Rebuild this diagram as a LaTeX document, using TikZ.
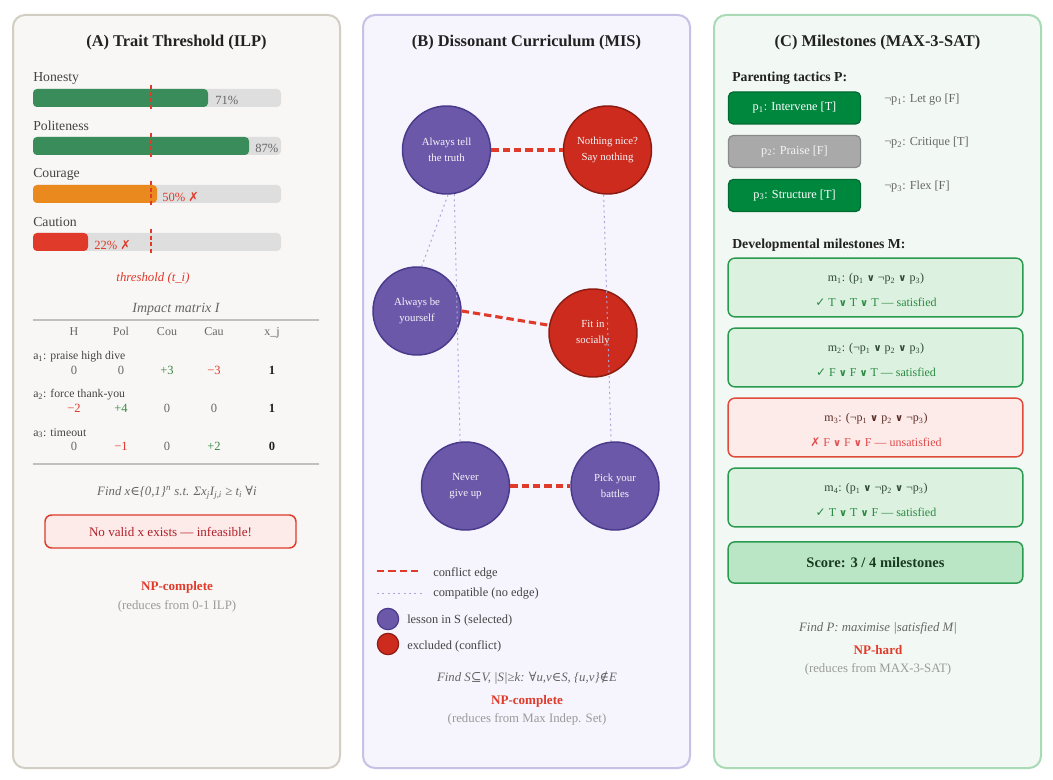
\documentclass[tikz,border=0pt]{standalone}
\usepackage{fontspec}
\setmainfont{Liberation Serif}
\newfontfamily\dvs{DejaVu Sans}
\newfontfamily\dvserif{DejaVu Serif}
\newcommand\fsz[1]{\fontsize{#1}{1.25\dimexpr #1\relax}\selectfont}
\newcommand\orr{{\dvs\bfseries\fontsize{7.5pt}{9pt}\selectfont ∨}}
\newcommand\ck{{\dvs\bfseries ✓}}
\newcommand\xk{{\dvs ✗}}
\newcommand\sub[1]{\textsubscript{#1}}
\definecolor{pAbg}{HTML}{F8F7F5}
\definecolor{pAbd}{HTML}{D3CEC4}
\definecolor{pBbg}{HTML}{F6F4FC}
\definecolor{pBbd}{HTML}{C6C1E6}
\definecolor{pCbg}{HTML}{F2F9F4}
\definecolor{pCbd}{HTML}{A9DAB5}
\definecolor{ttl}{HTML}{222222}
\definecolor{txt}{HTML}{444444}
\definecolor{gtxt}{HTML}{666666}
\definecolor{ltxt}{HTML}{9A9A9A}
\definecolor{barg}{HTML}{3A8C5A}
\definecolor{baro}{HTML}{EA8A1E}
\definecolor{barr}{HTML}{E03A2A}
\definecolor{barbg}{HTML}{DEDEDE}
\definecolor{redt}{HTML}{E03A2A}
\definecolor{grnt}{HTML}{3A8A45}
\definecolor{purp}{HTML}{6B58A8}
\definecolor{purpd}{HTML}{4A3A8C}
\definecolor{rnode}{HTML}{CC2B1D}
\definecolor{rnoded}{HTML}{8C1C12}
\definecolor{compat}{HTML}{ABA7DA}
\definecolor{cgreen}{HTML}{00873E}
\definecolor{cgreend}{HTML}{006B30}
\definecolor{cgray}{HTML}{A9A9A9}
\definecolor{cgrayd}{HTML}{8A8A8A}
\definecolor{msfill}{HTML}{DCF1E0}
\definecolor{msbd}{HTML}{2A9A4E}
\definecolor{ms1}{HTML}{2E4A35}
\definecolor{ms2}{HTML}{2A8A42}
\definecolor{mufill}{HTML}{FDEBE9}
\definecolor{mubd}{HTML}{E04A3A}
\definecolor{mu1}{HTML}{5A2B25}
\definecolor{mu2}{HTML}{E04A4A}
\definecolor{scfill}{HTML}{BBE6C6}
\definecolor{sctxt}{HTML}{1B3A22}
\definecolor{infill}{HTML}{FDEBE9}
\definecolor{intxt}{HTML}{B0202A}
\tikzset{
  panel/.style={line width=1.5pt, rounded corners=9pt},
  title/.style={font=\fsz{12.3pt}\bfseries, text=ttl},
  lbl/.style={anchor=west, font=\fsz{10.3pt}, text=txt, inner sep=0pt},
  pct/.style={anchor=west, font=\fsz{9.4pt}, text=gtxt, inner sep=0pt},
  pctr/.style={anchor=west, font=\fsz{9.4pt}, text=redt, inner sep=0pt},
  thr/.style={draw=redt, line width=1.5pt, dash pattern=on 3pt off 2pt},
  hdr/.style={font=\fsz{9pt}, text=gtxt, inner sep=0pt, text height=6.5pt, text depth=2pt},
  rowl/.style={anchor=west, font=\fsz{8.8pt}, text=txt, inner sep=0pt},
  val/.style={font=\fsz{9.4pt}, text=gtxt, inner sep=0pt, text height=6.5pt, text depth=1pt},
  valg/.style={val, text=grnt},
  valr/.style={val, text=redt},
  valb/.style={val, text=ttl, font=\fsz{9.4pt}\bfseries},
  rule/.style={draw=black!25, line width=0.8pt},
  note/.style={font=\fsz{9.6pt}\itshape, text=gtxt, inner sep=0pt},
  npc/.style={font=\fsz{9.8pt}\bfseries, text=redt, inner sep=0pt},
  red/.style={font=\fsz{9.6pt}, text=ltxt, inner sep=0pt},
  lesson/.style={circle, minimum size=66pt, inner sep=0pt, line width=1.1pt, draw=purpd, fill=purp, text=white!94!purp, align=center, font=\fontsize{8.1pt}{11.8pt}\selectfont},
  excl/.style={lesson, draw=rnoded, fill=rnode},
  conflict/.style={draw=redt, line width=2.3pt, dash pattern=on 5.5pt off 3pt},
  compatible/.style={draw=compat, line width=0.75pt, dash pattern=on 1.5pt off 2.5pt},
  leg/.style={anchor=west, font=\fsz{9.3pt}, text=txt, inner sep=0pt},
  tactic/.style={draw=cgreend, fill=cgreen, line width=0.9pt, rounded corners=3.5pt, minimum width=99pt, minimum height=24pt, text=white, font=\fsz{9.2pt}, inner sep=0pt},
  tacticoff/.style={tactic, draw=cgrayd, fill=cgray, text=white!88!cgray},
  neg/.style={anchor=west, font=\fsz{9.2pt}, text=gtxt, inner sep=0pt},
  sect/.style={anchor=west, font=\fsz{10.3pt}\bfseries, text=ttl, inner sep=0pt},
  msbox/.style={draw=msbd, fill=msfill, line width=1.1pt, rounded corners=5pt, minimum width=221pt, minimum height=44pt, inner sep=0pt},
  mubox/.style={msbox, draw=mubd, fill=mufill},
  ml/.style={font=\fsz{9pt}, inner sep=0pt},
}
\begin{document}
\begin{tikzpicture}[x=0.75pt,y=-0.75pt]
\useasboundingbox (0,0) rectangle (1053,780);
\fill[white] (0,0) rectangle (1053,780);
% ---------- panels
\draw[panel, draw=pAbd, fill=pAbg] (13,15) rectangle (340,768);
\draw[panel, draw=pBbd, fill=pBbg] (363,15) rectangle (690,768);
\draw[panel, draw=pCbd, fill=pCbg] (714,15) rectangle (1041,768);
\node[title] (tA) at (176.5,43) {(A) Trait Threshold (ILP)};
\node[title] (tB) at (526.5,43) {(B) Dissonant Curriculum (MIS)};
\node[title] (tC) at (877.5,43) {(C) Milestones (MAX-3-SAT)};

% ---------- panel A bars
\node[lbl] (lH) at (33,78) {Honesty};
\fill[barbg, rounded corners=3pt] (33,89) rectangle (281,107);
\fill[barg, rounded corners=3pt] (33,89) rectangle (208,107);
\node[pct] (pH) at (215,100) {71\%};
\node[lbl] (lP) at (33,126) {Politeness};
\fill[barbg, rounded corners=3pt] (33,137) rectangle (281,155);
\fill[barg, rounded corners=3pt] (33,137) rectangle (249,155);
\node[pct] (pP) at (255,148) {87\%};
\node[lbl] (lC) at (33,174) {Courage};
\fill[barbg, rounded corners=3pt] (33,185) rectangle (281,203);
\fill[baro, rounded corners=3pt] (33,185) rectangle (157,203);
\node[pctr] (pC) at (162,197) {50\% \xk};
\node[lbl] (lCa) at (33,222) {Caution};
\fill[barbg, rounded corners=3pt] (33,233) rectangle (281,251);
\fill[barr, rounded corners=3pt] (33,233) rectangle (88,251);
\node[pctr] (pCa) at (94,245) {22\% \xk};
\foreach \y in {89,137,185,233} \draw[thr] (151,\y-4) -- (151,\y+22);
\node[note, text=redt] (thl) at (153,278) {threshold (t\_i)};

% ---------- impact matrix
\node[note, font=\fsz{10.5pt}\itshape] (imt) at (176,309) {Impact matrix I};
\draw[rule] (33,320) -- (319,320);
\node[hdr] (hH) at (74,333) {H};
\node[hdr] (hP) at (121,333) {Pol};
\node[hdr] (hCo) at (167,333) {Cou};
\node[hdr] (hCa) at (214,333) {Cau};
\node[hdr] (hX) at (272,333) {x\_j};
\node[rowl] (r1) at (33,357) {a\sub{1}: praise high dive};
\node[val] (v11) at (74,371) {0};
\node[val] (v12) at (121,371) {0};
\node[valg] (v13) at (167,371) {+3};
\node[valr] (v14) at (214,371) {−3};
\node[valb] (v15) at (272,371) {1};
\node[rowl] (r2) at (33,395) {a\sub{2}: force thank-you};
\node[valr] (v21) at (74,409) {−2};
\node[valg] (v22) at (121,409) {+4};
\node[val] (v23) at (167,409) {0};
\node[val] (v24) at (214,409) {0};
\node[valb] (v25) at (272,409) {1};
\node[rowl] (r3) at (33,433) {a\sub{3}: timeout};
\node[val] (v31) at (74,447) {0};
\node[valr] (v32) at (121,447) {−1};
\node[val] (v33) at (167,447) {0};
\node[valg] (v34) at (214,447) {+2};
\node[valb] (v35) at (272,447) {0};
\draw[rule] (33,464) -- (319,464);
\node[note] (fA) at (177,493) {Find x{\dvserif\itshape ∈}\{0,1\}\textsuperscript{n} s.t. Σx\sub{j}I\sub{j,i} ≥ t\sub{i} {\dvserif\upshape ∀}i};
\draw[draw=redt, fill=infill, line width=1.1pt, rounded corners=5pt] (45,515) rectangle (296,548);
\node[font=\fsz{9.8pt}, text=intxt, inner sep=0pt] (inf) at (170.5,532) {No valid x exists — infeasible!};
\node[npc] (npA) at (177,587) {NP-complete};
\node[red] (rdA) at (177,606) {(reduces from 0-1 ILP)};

% ---------- panel B graph
\node[lesson] (truth) at (446.5,150) {Always tell\\the truth};
\node[excl] (nice) at (607.5,150) {Nothing nice?\\Say nothing};
\node[lesson] (self) at (417,311) {Always be\\yourself};
\node[excl] (fit) at (593,333) {Fit in\\socially};
\node[lesson] (never) at (465.5,486) {Never\\give up};
\node[lesson] (pick) at (615,486) {Pick your\\battles};
\draw[conflict] (truth) -- (nice);
\draw[conflict] (self.east) -- (fit.170);
\draw[conflict] (never) -- (pick);
\draw[compatible] (truth.-88) -- (self.84);
\draw[compatible] (truth.-80) -- (never.97);
\draw[compatible] (nice.-95) -- (pick.95);

% legend
\coordinate (c1a) at (377,571); \coordinate (c1b) at (421,571);
\draw[conflict, line width=2pt] (c1a) -- (c1b);
\node[leg] (lg1) at (433,573) {conflict edge};
\coordinate (c2a) at (377,593); \coordinate (c2b) at (425,593);
\draw[compatible] (c2a) -- (c2b);
\node[leg] (lg2) at (433,594) {compatible (no edge)};
\node[circle, minimum size=16pt, inner sep=0pt, draw=purpd, fill=purp, line width=0.9pt] (lgp) at (388,619) {};
\node[leg] (lg3) at (407,621) {lesson in S (selected)};
\node[circle, minimum size=16pt, inner sep=0pt, draw=rnoded, fill=rnode, line width=0.9pt] (lgr) at (388,644) {};
\node[leg] (lg4) at (407,646) {excluded (conflict)};
\node[note] (fB) at (527,678) {Find S{\dvserif\itshape ⊆}V, |S|≥k: {\dvserif\upshape ∀}u,v{\dvserif\itshape ∈}S, \{u,v\}{\dvserif\itshape ∉}E};
\node[npc] (npB) at (527,701) {NP-complete};
\node[red] (rdB) at (527,719) {(reduces from Max Indep. Set)};

% ---------- panel C
\node[sect] (pt) at (732,78) {Parenting tactics P:};
\node[tactic] (p1) at (794.5,108) {p\sub{1}: Intervene [T]};
\node[tacticoff] (p2) at (794.5,151.5) {p\sub{2}: Praise [F]};
\node[tactic] (p3) at (794.5,195.5) {p\sub{3}: Structure [T]};
\node[neg] (n1) at (884,100) {¬p\sub{1}: Let go [F]};
\node[neg] (n2) at (884,143) {¬p\sub{2}: Critique [T]};
\node[neg] (n3) at (884,187) {¬p\sub{3}: Flex [F]};
\node[sect] (dm) at (732,245) {Developmental milestones M:};

\node[msbox] (m1) at (875.5,287.5) {};
\node[ml, text=ms1] (m1a) at (876,279) {m\sub{1}: (p\sub{1} \orr{} ¬p\sub{2} \orr{} p\sub{3})};
\node[ml, text=ms2] (m1b) at (876,302) {\ck{} T \orr{} T \orr{} T — satisfied};
\node[msbox] (m2) at (875.5,357.5) {};
\node[ml, text=ms1] (m2a) at (876,349) {m\sub{2}: (¬p\sub{1} \orr{} p\sub{2} \orr{} p\sub{3})};
\node[ml, text=ms2] (m2b) at (876,372) {\ck{} F \orr{} F \orr{} T — satisfied};
\node[mubox] (m3) at (875.5,427.5) {};
\node[ml, text=mu1] (m3a) at (876,419) {m\sub{3}: (¬p\sub{1} \orr{} p\sub{2} \orr{} ¬p\sub{3})};
\node[ml, text=mu2] (m3b) at (876,442) {\xk{} F \orr{} F \orr{} F — unsatisfied};
\node[msbox] (m4) at (875.5,497.5) {};
\node[ml, text=ms1] (m4a) at (876,489) {m\sub{4}: (p\sub{1} \orr{} ¬p\sub{2} \orr{} ¬p\sub{3})};
\node[ml, text=ms2] (m4b) at (876,512) {\ck{} T \orr{} T \orr{} F — satisfied};
\node[msbox, fill=scfill, minimum height=31pt, font=\fsz{10.9pt}\bfseries, text=sctxt] (sc) at (875.5,562.5) {Score: 3 / 4 milestones};

\node[note] (fC) at (878,628) {Find P: maximise |satisfied M|};
\node[npc] (npC) at (878,650) {NP-hard};
\node[red] (rdC) at (878,669) {(reduces from MAX-3-SAT)};
\end{tikzpicture}
\end{document}
